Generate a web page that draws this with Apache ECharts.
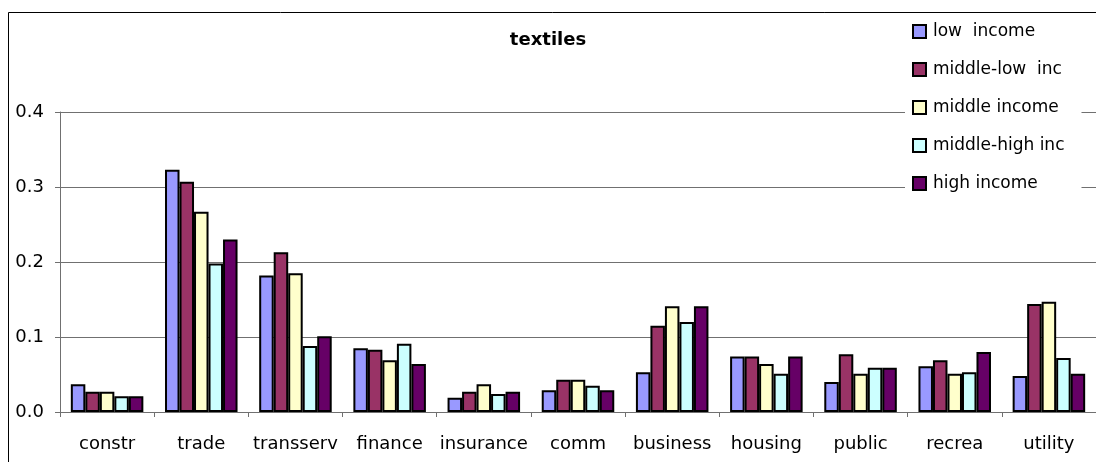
<!DOCTYPE html>
<html>
<head>
<meta charset="utf-8">
<script src="https://cdn.jsdelivr.net/npm/echarts@6/dist/echarts.min.js"></script>
<style>
html,body{margin:0;padding:0;background:#fff;}
#chart{width:1096px;height:462px;}
</style>
</head>
<body>
<div id="chart"></div>
<script>
const categories = ['constr','trade','transserv','finance','insurance','comm','business','housing','public','recrea','utility'];
const seriesNames = ['low  income','middle-low  inc','middle income','middle-high inc','high income'];
const lowIncome        = [0.037,0.323,0.182,0.085,0.019,0.029,0.053,0.074,0.040,0.061,0.048];
const middleLowInc     = [0.027,0.307,0.213,0.083,0.027,0.043,0.115,0.074,0.077,0.069,0.144];
const middleIncome     = [0.027,0.267,0.185,0.069,0.037,0.043,0.141,0.064,0.051,0.051,0.147];
const middleHighInc    = [0.021,0.198,0.088,0.091,0.024,0.035,0.120,0.051,0.059,0.053,0.072];
const highIncome       = [0.021,0.230,0.101,0.064,0.027,0.029,0.141,0.074,0.059,0.080,0.051];
const yTicks = [0.0,0.1,0.2,0.3,0.4];
const colors = ['#9999FF','#993366','#FFFFCC','#CCFFFF','#660066'];

const allData = [lowIncome, middleLowInc, middleIncome, middleHighInc, highIncome];
const FONT = 'DejaVu Sans';

const chart = echarts.init(document.getElementById('chart'), null, {renderer:'canvas'});
chart.setOption({
  animation:false,
  backgroundColor:'#fff',
  graphic:[{
    type:'rect', z:-10, silent:true,
    shape:{x:8.5,y:12.5,width:1200,height:600},
    style:{fill:'none',stroke:'#000',lineWidth:1}
  }],
  title:{
    text:'textiles', left:'center', top:31, padding:0,
    textStyle:{fontFamily:FONT,fontSize:18,fontWeight:'bold',color:'#000'}
  },
  legend:{
    orient:'vertical', left:905, top:18,
    padding:[5,17,5,7],
    backgroundColor:'#fff',
    itemWidth:13, itemHeight:13, itemGap:21,
    icon:'rect',
    textStyle:{fontFamily:FONT,fontSize:17,color:'#000',padding:[0,0,0,2]},
    data:seriesNames
  },
  grid:{left:60,right:0,top:112,bottom:50,containLabel:false},
  xAxis:{
    type:'category', data:categories,
    axisLine:{lineStyle:{color:'#707070',width:1}},
    axisTick:{show:true,length:5,lineStyle:{color:'#707070'}},
    axisLabel:{fontFamily:FONT,fontSize:18,color:'#000',margin:23,interval:0}
  },
  yAxis:{
    type:'value', min:0, max:0.4, interval:0.1,
    axisLine:{show:true,lineStyle:{color:'#707070',width:1}},
    axisTick:{show:true,length:5,lineStyle:{color:'#707070'}},
    splitLine:{show:true,lineStyle:{color:'#707070',width:1}},
    axisLabel:{fontFamily:FONT,fontSize:18,color:'#000',margin:16,
      formatter:v=>{const t=yTicks.find(x=>Math.abs(x-v)<1e-9);return (t!==undefined?t:v).toFixed(1);}}
  },
  series: seriesNames.map((name,i)=>({
    name:name, type:'bar', data:allData[i],
    barGap:'0%', barCategoryGap:'23%',
    itemStyle:{color:colors[i],borderColor:'#000',borderWidth:2}
  }))
});
</script>
</body>
</html>
